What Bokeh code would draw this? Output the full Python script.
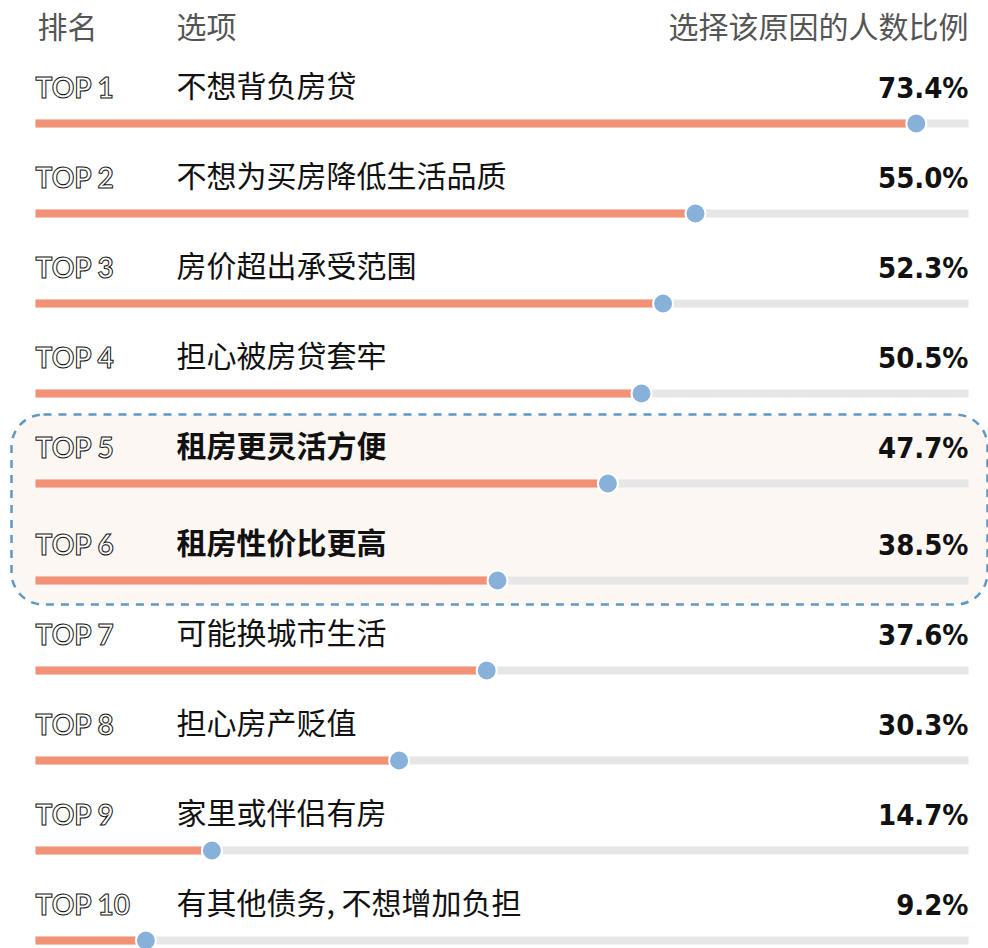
from bokeh.plotting import figure
from bokeh.models import ColumnDataSource, Range1d, BoxAnnotation
from bokeh.core.properties import value
from bokeh.embed import file_html
from bokeh.resources import INLINE

# ---- data ----
ranks = ["TOP 1", "TOP 2", "TOP 3", "TOP 4", "TOP 5", "TOP 6", "TOP 7", "TOP 8", "TOP 9", "TOP 10"]
options = ["不想背负房贷", "不想为买房降低生活品质", "房价超出承受范围", "担心被房贷套牢",
           "租房更灵活方便", "租房性价比更高", "可能换城市生活", "担心房产贬值",
           "家里或伴侣有房", "有其他债务, 不想增加负担"]
shares = [73.4, 55.0, 52.3, 50.5, 47.7, 38.5, 37.6, 30.3, 14.7, 9.2]
highlight = [False, False, False, False, True, True, False, False, False, False]
headers = ["排名", "选项", "选择该原因的人数比例"]

W, H = 988, 948
PX = 12.0          # pixels per percent
X0 = 35            # pixel position of 0 %
track_max = (968 - X0) / PX

def vx(px):
    return (px - X0) / PX

p = figure(width=W, height=H, output_backend="svg", toolbar_location=None,
           x_range=Range1d(vx(0), vx(W)), y_range=Range1d(H, 0),
           x_axis_type=None, y_axis_type=None, min_border=0,
           background_fill_color="white", border_fill_color="white")
p.outline_line_color = None
p.grid.visible = False

n = len(ranks)
bar_y = [123 + 90 * i + (7 if i >= 5 else 0) for i in range(n)]

# highlight box
hi_idx = [i for i, h in enumerate(highlight) if h]
box = BoxAnnotation(left=vx(11), right=vx(987),
                    top=bar_y[hi_idx[0]] - 69, bottom=bar_y[hi_idx[-1]] + 24,
                    fill_color="#fdf7f4", fill_alpha=1.0,
                    line_color="#5f97c5", line_alpha=1.0, line_width=2.5,
                    line_dash="8 7", border_radius=32, level="underlay")
p.add_layout(box)

src = ColumnDataSource(dict(
    y=bar_y,
    zero=[0] * n,
    track=[track_max] * n,
    share=shares,
    rank=ranks,
    lbl=[f"{v:.1f}%" for v in shares],
    ty=[y - 37 for y in bar_y],
    vy=[y - 36 for y in bar_y],
    tx=[0] * n,
    vxp=[track_max] * n,
))

# track and bar
p.hbar(y="y", left="zero", right="track", height=8, source=src,
       fill_color="#e6e6e6", line_color=None)
p.hbar(y="y", left="zero", right="share", height=8, source=src,
       fill_color="#f29175", line_color=None)
p.scatter(x="share", y="y", source=src, size=20, fill_color="#88b1d9",
          line_color="white", line_width=2)

# rank labels (outlined)
p.text(x="tx", y="ty", text="rank", source=src, text_font=value("Lato"),
       text_font_size="28px", text_font_style="bold", text_color="white",
       text_outline_color="#111111", text_baseline="alphabetic", text_align="left")

# option labels
def opt_src(flag):
    idx = [i for i in range(n) if highlight[i] == flag]
    return ColumnDataSource(dict(x=[vx(176)] * len(idx),
                                 y=[bar_y[i] - 40 for i in idx],
                                 t=[options[i] for i in idx]))

p.text(x="x", y="y", text="t", source=opt_src(False), text_font=value("Noto Sans CJK SC"),
       text_font_size="30px", text_color="#111111", text_baseline="middle")
p.text(x="x", y="y", text="t", source=opt_src(True), text_font=value("Noto Sans CJK SC"),
       text_font_size="30px", text_font_style="bold", text_color="#111111",
       text_baseline="middle")

# values
p.text(x="vxp", y="vy", text="lbl", source=src,
       text_font=value("'Liberation Sans Narrow', 'DejaVu Sans Condensed', Roboto"),
       text_font_size="29px", text_font_style="bold", text_color="#111111",
       text_align="right", text_baseline="alphabetic")

# headers
hsrc = ColumnDataSource(dict(x=[vx(37), vx(176), track_max],
                             y=[24, 24, 24], t=headers,
                             a=["left", "left", "right"]))
p.text(x="x", y="y", text="t", source=hsrc, text_align="a",
       text_font=value("Noto Sans CJK SC"), text_font_size="30px",
       text_color="#555555", text_baseline="middle")

open("out.html", "w").write(file_html(p, INLINE))
